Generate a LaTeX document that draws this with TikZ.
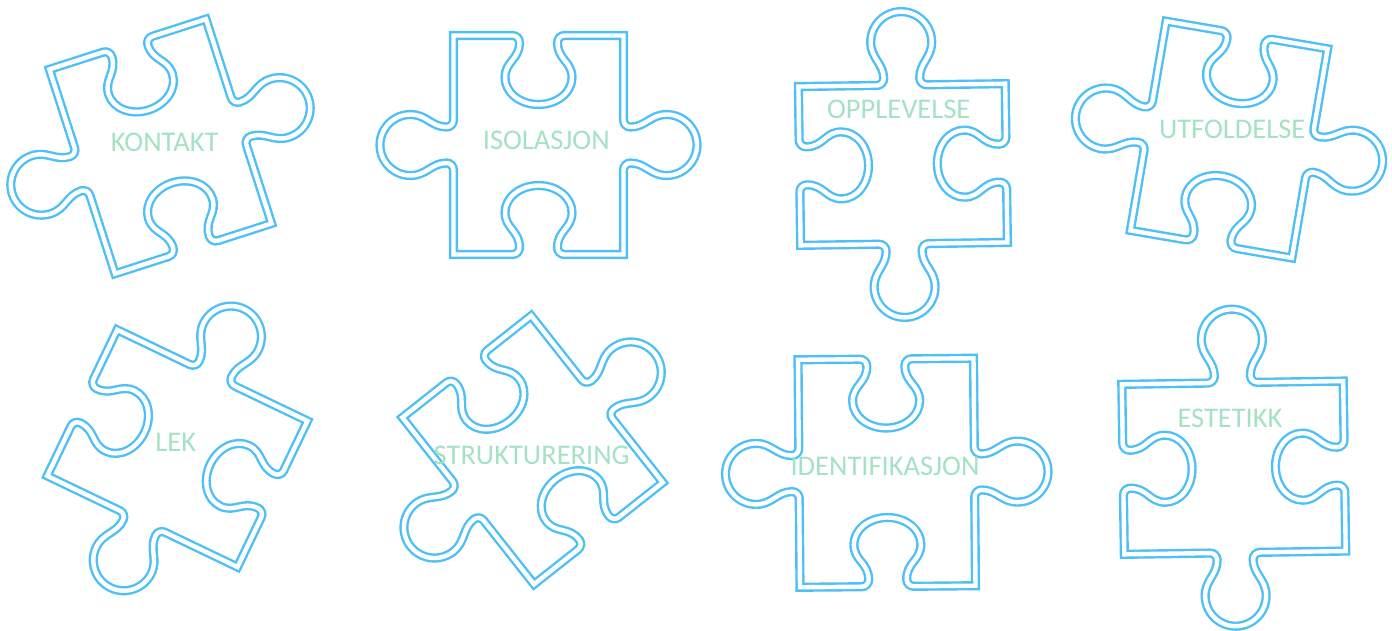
\documentclass[tikz,border=0pt]{standalone}
\usepackage{fontspec}
\setmainfont{Carlito}
\definecolor{pzblue}{RGB}{79,192,245}
\definecolor{pzgreen}{RGB}{164,226,196}
\tikzset{
  pz/.style={draw=pzblue, line width=2.4pt, double=white, double distance=4.4pt, line join=miter},
  lbl/.style={text=pzgreen, font=\fontsize{28.5}{31}\selectfont, inner sep=0pt, anchor=base}
}
% point maps for the four sides (u along travel, w outward)
\newcommand*\PtT[2]{({#1},{-\pb-(#2)})}
\newcommand*\PtR[2]{({\pa+(#2)},{#1})}
\newcommand*\PtB[2]{({-(#1)},{\pb+(#2)})}
\newcommand*\PtL[2]{({-\pa-(#2)},{-(#1)})}
% knob profiles
\newcommand*\Tab[1]{%
 -- #1{-25}{0} .. controls #1{-21.1}{0} and #1{-18}{3.1} .. #1{-18}{7}
 .. controls #1{-18}{22} and #1{-30.5}{27} .. #1{-30.5}{43}
 .. controls #1{-30.5}{59.8} and #1{-16.8}{73.5} .. #1{0}{73.5}
 .. controls #1{16.8}{73.5} and #1{30.5}{59.8} .. #1{30.5}{43}
 .. controls #1{30.5}{27} and #1{18}{22} .. #1{18}{7}
 .. controls #1{18}{3.1} and #1{21.1}{0} .. #1{25}{0} }
\newcommand*\Blank[1]{%
 -- #1{-26}{0} .. controls #1{-22.1}{0} and #1{-19}{-3.1} .. #1{-19}{-7}
 .. controls #1{-19}{-24} and #1{-33.5}{-26} .. #1{-33.5}{-42}
 .. controls #1{-33.5}{-57} and #1{-18.5}{-69} .. #1{0}{-69}
 .. controls #1{18.5}{-69} and #1{33.5}{-57} .. #1{33.5}{-42}
 .. controls #1{33.5}{-26} and #1{19}{-24} .. #1{19}{-7}
 .. controls #1{19}{-3.1} and #1{22.1}{0} .. #1{26}{0} }
\newcommand\pzpiece[6]{%
  \def\pa{#4}\def\pb{#5}%
  \if#6A
    \edef\pzpath{(-\pa,-\pb) \Blank\PtT -- (\pa,-\pb) \Tab\PtR -- (\pa,\pb) \Blank\PtB -- (-\pa,\pb) \Tab\PtL -- cycle}%
  \else
    \edef\pzpath{(-\pa,-\pb) \Tab\PtT -- (\pa,-\pb) \Blank\PtR -- (\pa,\pb) \Tab\PtB -- (-\pa,\pb) \Blank\PtL -- cycle}%
  \fi
  \begin{scope}[shift={(#1,#2)},rotate=#3]
    \draw[pz] \pzpath;
  \end{scope}}
\begin{document}
\begin{tikzpicture}[x=1pt,y=-1pt]
\useasboundingbox (0,0) rectangle (1392,630);
\pzpiece{160.5}{146.4}{17.8}{82.2}{107.3}{A}
\pzpiece{538.5}{145}{0}{85}{109.5}{A}
\pzpiece{902.9}{164.5}{0.8}{103.4}{79.4}{B}
\pzpiece{1229}{139.6}{-9.7}{81.9}{106.1}{A}
\pzpiece{177.35}{448.4}{-25.6}{105.5}{81}{B}
\pzpiece{532.6}{450}{38.3}{82.1}{106.25}{A}
\pzpiece{886.75}{472.75}{0.5}{87.75}{113.75}{A}
\pzpiece{1233.75}{467.7}{0.85}{110.7}{85}{B}
\node[lbl] (kontakt) at (164.7,151.7) {KONTAKT};
\node[lbl] (isolasjon) at (546.3,149.3) {ISOLASJON};
\node[lbl] (opplevelse) at (898.7,118.3) {OPPLEVELSE};
\node[lbl] (utfoldelse) at (1232.2,138.3) {UTFOLDELSE};
\node[lbl] (lek) at (175.8,451.7) {LEK};
\node[lbl] (strukturering) at (531.7,464) {STRUKTURERING};
\node[lbl] (identifikasjon) at (885,475) {IDENTIFIKASJON};
\node[lbl] (estetikk) at (1230,427.3) {ESTETIKK};
\end{tikzpicture}
\end{document}
